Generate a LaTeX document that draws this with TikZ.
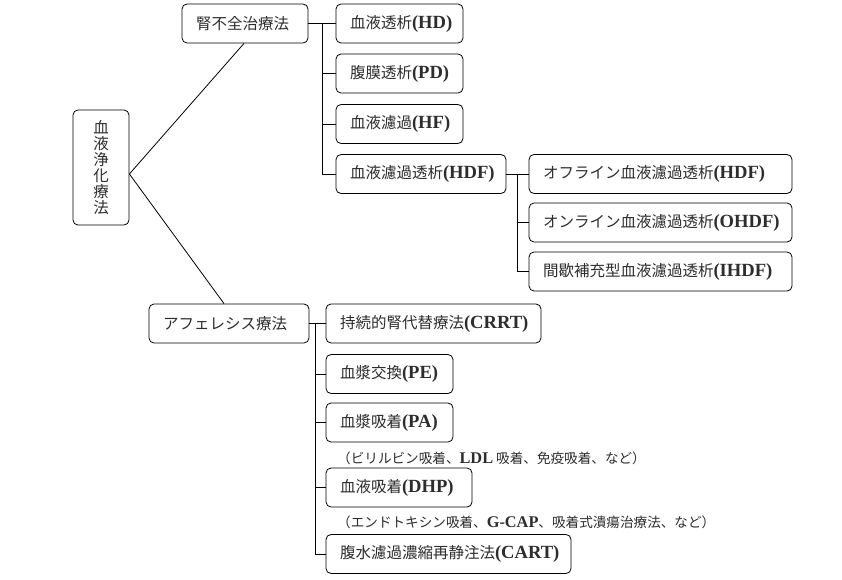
\documentclass[tikz,border=0pt]{standalone}
\usepackage{fontspec}
\setmainfont{Noto Sans CJK JP}
\newfontfamily\enfont[Scale=1.2]{Liberation Serif}
\newcommand{\EN}[1]{{\enfont\bfseries #1}}
\usetikzlibrary{calc}
\definecolor{txt}{RGB}{45,45,45}
\begin{document}
\begin{tikzpicture}[x=1pt,y=-1pt,
  jbox/.style={draw=black, line width=0.8pt, rounded corners=5pt, inner xsep=14pt, inner ysep=0pt,
    minimum height=39pt, align=left, text=txt, font=\fontsize{15.5}{18}\selectfont},
  jnote/.style={inner sep=0pt, anchor=west, text=txt, font=\fontsize{13.6}{15}\selectfont},
  conn/.style={draw=black, line width=0.8pt}]
\useasboundingbox (0,0) rectangle (842,580);

% root
\node[draw=black, line width=0.8pt, rounded corners=5pt, inner sep=0pt, minimum width=56pt,
  minimum height=115pt, align=center, text=txt, font=\fontsize{15.5}{16}\selectfont]
  (root) at (101,167.5) {血\\液\\浄\\化\\療\\法};

% level 1
\node[jbox, text width=98pt] (jin) at (245,23.5) {腎不全治療法};
\node[jbox, text width=132pt] (aph) at (229,323.5) {アフェレシス療法};

% kidney branch
\node[jbox, text width=99pt] (hd) at (399.5,23.5) {血液透析\EN{(HD)}};
\node[jbox, text width=99pt] (pd) at (399.5,73.5) {腹膜透析\EN{(PD)}};
\node[jbox, text width=99pt] (hf) at (399.5,124) {血液濾過\EN{(HF)}};
\node[jbox, text width=142pt] (hdf) at (421,174) {血液濾過透析\EN{(HDF)}};

\node[jbox, text width=235pt] (off) at (660.5,174) {オフライン血液濾過透析\EN{(HDF)}};
\node[jbox, text width=235pt] (on) at (660.5,222.5) {オンライン血液濾過透析\EN{(OHDF)}};
\node[jbox, text width=235pt] (ihdf) at (660.5,271.5) {間歇補充型血液濾過透析\EN{(IHDF)}};

% apheresis branch
\node[jbox, text width=187pt] (crrt) at (433.5,323.5) {持続的腎代替療法\EN{(CRRT)}};
\node[jbox, text width=99pt] (pe) at (389.5,374) {血漿交換\EN{(PE)}};
\node[jbox, text width=99pt] (pa) at (389.5,422.5) {血漿吸着\EN{(PA)}};
\node[jnote] (n1) at (337,458) {（ビリルビン吸着、\EN{LDL} 吸着、免疫吸着、など）};
\node[jbox, text width=118pt] (dhp) at (399,487.5) {血液吸着\EN{(DHP)}};
\node[jnote] (n2) at (337,522) {（エンドトキシン吸着、\EN{G-CAP}、吸着式潰瘍治療法、など）};
\node[jbox, text width=217pt] (cart) at (448.5,554) {腹水濾過濃縮再静注法\EN{(CART)}};

% connectors from root
\coordinate (rj) at ($(root.east)+(0,6.5)$);
\draw[conn] ($(jin.south)+(-1,0)$) -- (rj) -- ($(aph.north)+(-5,0)$);

% kidney trunk
\coordinate (t1) at (322,0);
\draw[conn] (jin.east) -- (hd.west);
\draw[conn] (t1 |- jin.east) -- (t1 |- hdf.west);
\draw[conn] (t1 |- pd.west) -- (pd.west);
\draw[conn] (t1 |- hf.west) -- (hf.west);
\draw[conn] (t1 |- hdf.west) -- (hdf.west);

% HDF trunk
\coordinate (t2) at (517,0);
\draw[conn] (hdf.east) -- (off.west);
\draw[conn] (t2 |- off.west) -- (t2 |- ihdf.west);
\draw[conn] (t2 |- on.west) -- (on.west);
\draw[conn] (t2 |- ihdf.west) -- (ihdf.west);

% apheresis trunk
\coordinate (t3) at (315,0);
\draw[conn] (aph.east) -- (crrt.west);
\draw[conn] (t3 |- aph.east) -- (t3 |- cart.west);
\draw[conn] (t3 |- pe.west) -- (pe.west);
\draw[conn] (t3 |- pa.west) -- (pa.west);
\draw[conn] (t3 |- dhp.west) -- (dhp.west);
\draw[conn] (t3 |- cart.west) -- (cart.west);
\end{tikzpicture}
\end{document}
